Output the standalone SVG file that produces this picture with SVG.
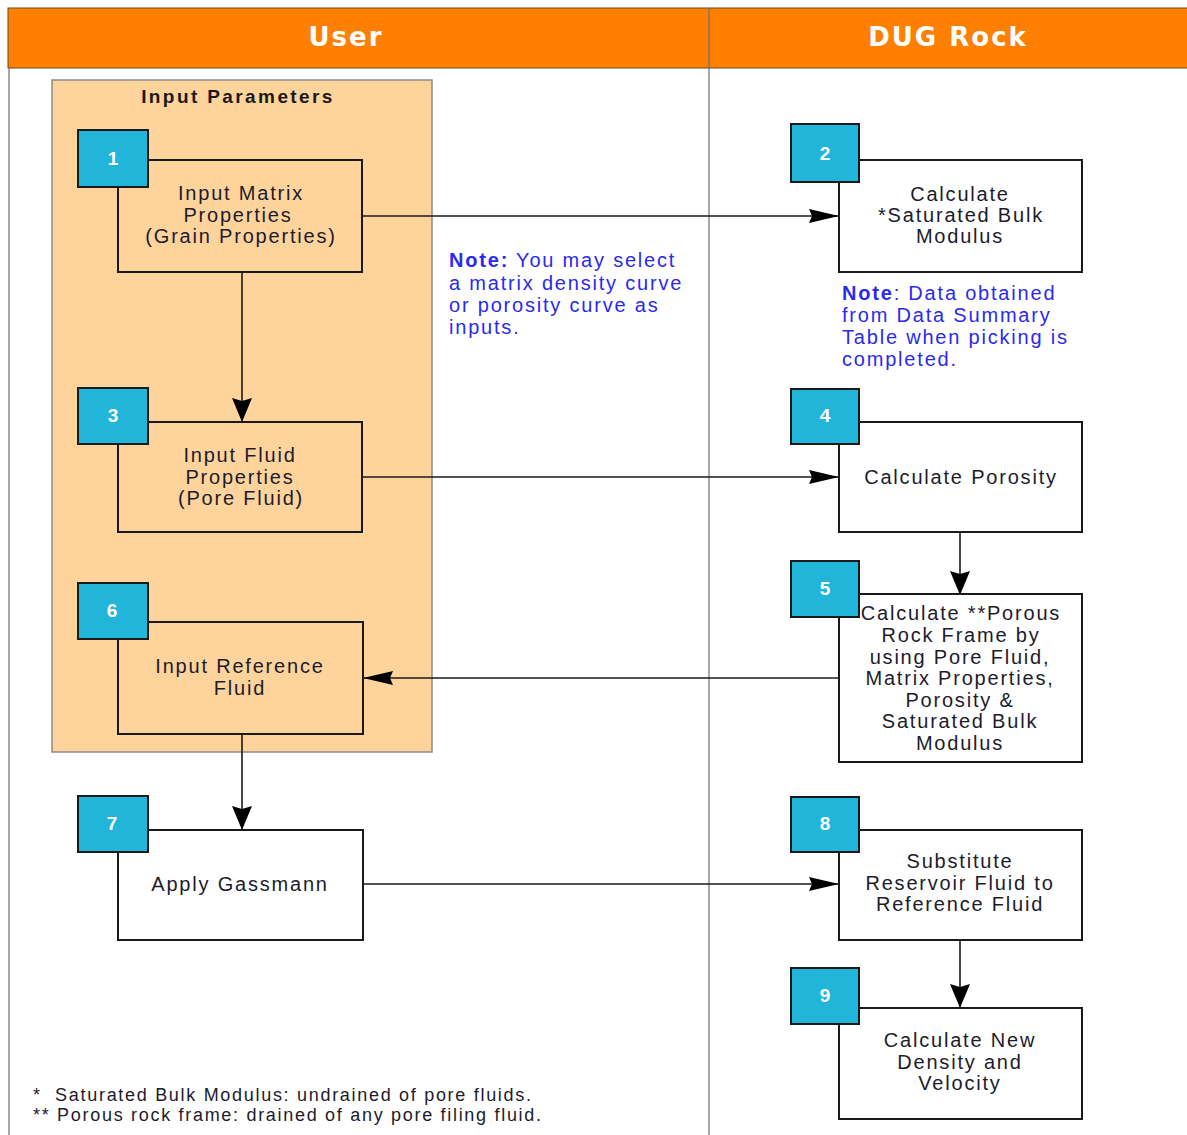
<svg xmlns="http://www.w3.org/2000/svg" width="1187" height="1135" viewBox="0 0 1187 1135">
  <style>
    .lane { fill: #FF8000; stroke: #6b4a20; stroke-width: 1; }
    .lanetitle { font-family: "DejaVu Sans", sans-serif; font-weight: bold; font-size: 26px; fill: #ffffff; letter-spacing: 2px; text-anchor: middle; }
    .sep { stroke: #6e6e6e; stroke-width: 1.2; fill: none; }
    .panel { fill: #FED49C; stroke: #8a8a8a; stroke-width: 1.5; }
    .paneltitle { font-family: "Liberation Sans", Arial, sans-serif; font-weight: bold; font-size: 19px; fill: #1a1a1a; letter-spacing: 2.4px; text-anchor: middle; }
    .box { fill: #ffffff; stroke: #1a1a1a; stroke-width: 2; }
    .box.in { fill: #FED49C; }
    .badge { fill: #22B5DA; stroke: #1a1a1a; stroke-width: 2; }
    .num { font-family: "Liberation Sans", Arial, sans-serif; font-weight: bold; font-size: 19px; fill: #ffffff; text-anchor: middle; }
    .lbl { font-family: "Liberation Sans", Arial, sans-serif; font-size: 20px; fill: #1c1c2c; letter-spacing: 1.8px; text-anchor: middle; }
    .note { font-family: "Liberation Sans", Arial, sans-serif; font-size: 20px; fill: #2a2af0; letter-spacing: 1.8px; }
    .note tspan.b { font-weight: bold; }
    .foot { font-family: "Liberation Sans", Arial, sans-serif; font-size: 18px; fill: #1c1c2c; letter-spacing: 1.7px; }
    .conn { stroke: #1a1a1a; stroke-width: 1.6; fill: none; }
  </style>
  <defs>
    <marker id="arrH" markerUnits="userSpaceOnUse" markerWidth="31" markerHeight="15" refX="30" refY="7" orient="auto">
      <path d="M0,0 L30,7 L0,14 L3,7 Z" fill="#000000"/>
    </marker>
    <marker id="arrV" markerUnits="userSpaceOnUse" markerWidth="25" markerHeight="21" refX="24" refY="10" orient="auto">
      <path d="M0,0 L24,10 L0,20 L3,10 Z" fill="#000000"/>
    </marker>
  </defs>

  <rect width="1187" height="1135" fill="#ffffff"/>

  <!-- swimlane headers and lane borders -->
  <g id="lanes">
    <rect class="lane" x="8" y="8" width="1190" height="60"/>
    <line class="sep" x1="9" y1="68" x2="9" y2="1135"/>
    <line class="sep" x1="709" y1="8" x2="709" y2="1135"/>
    <text class="lanetitle" x="346" y="46">User</text>
    <text class="lanetitle" x="948" y="46">DUG Rock</text>
  </g>

  <!-- input parameter group -->
  <g id="input-parameters">
    <rect class="panel" x="52" y="80" width="380" height="672"/>
    <text class="paneltitle" x="238" y="103">Input Parameters</text>
  </g>

  <!-- connectors -->
  <g id="connectors">
    <line class="conn" x1="362" y1="216" x2="839" y2="216" marker-end="url(#arrH)"/>
    <line class="conn" x1="242" y1="272" x2="242" y2="422" marker-end="url(#arrV)"/>
    <line class="conn" x1="362" y1="477" x2="839" y2="477" marker-end="url(#arrH)"/>
    <line class="conn" x1="960" y1="532" x2="960" y2="595" marker-end="url(#arrV)"/>
    <line class="conn" x1="839" y1="678" x2="363" y2="678" marker-end="url(#arrH)"/>
    <line class="conn" x1="242" y1="734" x2="242" y2="830" marker-end="url(#arrV)"/>
    <line class="conn" x1="363" y1="884" x2="839" y2="884" marker-end="url(#arrH)"/>
    <line class="conn" x1="960" y1="940" x2="960" y2="1008" marker-end="url(#arrV)"/>
  </g>

  <g id="node-1">
    <rect class="box in" x="118" y="160" width="244" height="112"/>
    <text class="lbl" x="241" y="200">Input Matrix</text>
    <text class="lbl" x="238" y="222">Properties</text>
    <text class="lbl" x="241" y="243">(Grain Properties)</text>
    <rect class="badge" x="78" y="130" width="70" height="57"/>
    <text class="num" x="113" y="165">1</text>
  </g>

  <g id="node-2">
    <rect class="box" x="839" y="160" width="243" height="112"/>
    <text class="lbl" x="960" y="201">Calculate</text>
    <text class="lbl" x="961" y="222">*Saturated Bulk</text>
    <text class="lbl" x="960" y="243">Modulus</text>
    <rect class="badge" x="791" y="124" width="68" height="58"/>
    <text class="num" x="825" y="160">2</text>
  </g>

  <g id="node-3">
    <rect class="box in" x="118" y="422" width="244" height="110"/>
    <text class="lbl" x="240" y="462">Input Fluid</text>
    <text class="lbl" x="240" y="484">Properties</text>
    <text class="lbl" x="241" y="505">(Pore Fluid)</text>
    <rect class="badge" x="78" y="388" width="70" height="56"/>
    <text class="num" x="113" y="422">3</text>
  </g>

  <g id="node-4">
    <rect class="box" x="839" y="422" width="243" height="110"/>
    <text class="lbl" x="961" y="484">Calculate Porosity</text>
    <rect class="badge" x="791" y="389" width="68" height="55"/>
    <text class="num" x="825" y="422">4</text>
  </g>

  <g id="node-5">
    <rect class="box" x="839" y="594" width="243" height="168"/>
    <text class="lbl" x="961" y="620">Calculate **Porous</text>
    <text class="lbl" x="961" y="642">Rock Frame by</text>
    <text class="lbl" x="960" y="664">using Pore Fluid,</text>
    <text class="lbl" x="960" y="685">Matrix Properties,</text>
    <text class="lbl" x="960" y="707">Porosity &amp;</text>
    <text class="lbl" x="960" y="728">Saturated Bulk</text>
    <text class="lbl" x="960" y="750">Modulus</text>
    <rect class="badge" x="791" y="561" width="68" height="56"/>
    <text class="num" x="825" y="595">5</text>
  </g>

  <g id="node-6">
    <rect class="box in" x="118" y="622" width="245" height="112"/>
    <text class="lbl" x="240" y="673">Input Reference</text>
    <text class="lbl" x="240" y="695">Fluid</text>
    <rect class="badge" x="78" y="583" width="70" height="56"/>
    <text class="num" x="112" y="617">6</text>
  </g>

  <g id="node-7">
    <rect class="box" x="118" y="830" width="245" height="110"/>
    <text class="lbl" x="240" y="891">Apply Gassmann</text>
    <rect class="badge" x="78" y="796" width="70" height="56"/>
    <text class="num" x="112" y="830">7</text>
  </g>

  <g id="node-8">
    <rect class="box" x="839" y="830" width="243" height="110"/>
    <text class="lbl" x="960" y="868">Substitute</text>
    <text class="lbl" x="960" y="890">Reservoir Fluid to</text>
    <text class="lbl" x="960" y="911">Reference Fluid</text>
    <rect class="badge" x="791" y="797" width="68" height="55"/>
    <text class="num" x="825" y="830">8</text>
  </g>

  <g id="node-9">
    <rect class="box" x="839" y="1008" width="243" height="111"/>
    <text class="lbl" x="960" y="1047">Calculate New</text>
    <text class="lbl" x="960" y="1069">Density and</text>
    <text class="lbl" x="960" y="1090">Velocity</text>
    <rect class="badge" x="791" y="968" width="68" height="56"/>
    <text class="num" x="825" y="1002">9</text>
  </g>

  <!-- annotations -->
  <g id="note-inputs">
    <text class="note" x="449" y="267"><tspan class="b">Note:</tspan> You may select</text>
    <text class="note" x="449" y="290">a matrix density curve</text>
    <text class="note" x="449" y="312">or porosity curve as</text>
    <text class="note" x="449" y="334">inputs.</text>
  </g>
  <g id="note-data">
    <text class="note" x="842" y="300"><tspan class="b">Note</tspan>: Data obtained</text>
    <text class="note" x="842" y="322">from Data Summary</text>
    <text class="note" x="842" y="344">Table when picking is</text>
    <text class="note" x="842" y="366">completed.</text>
  </g>
  <g id="footnotes">
    <text class="foot" x="33" y="1101">*&#160; Saturated Bulk Modulus: undrained of pore fluids.</text>
    <text class="foot" x="33" y="1121">** Porous rock frame: drained of any pore filing fluid.</text>
  </g>
</svg>
